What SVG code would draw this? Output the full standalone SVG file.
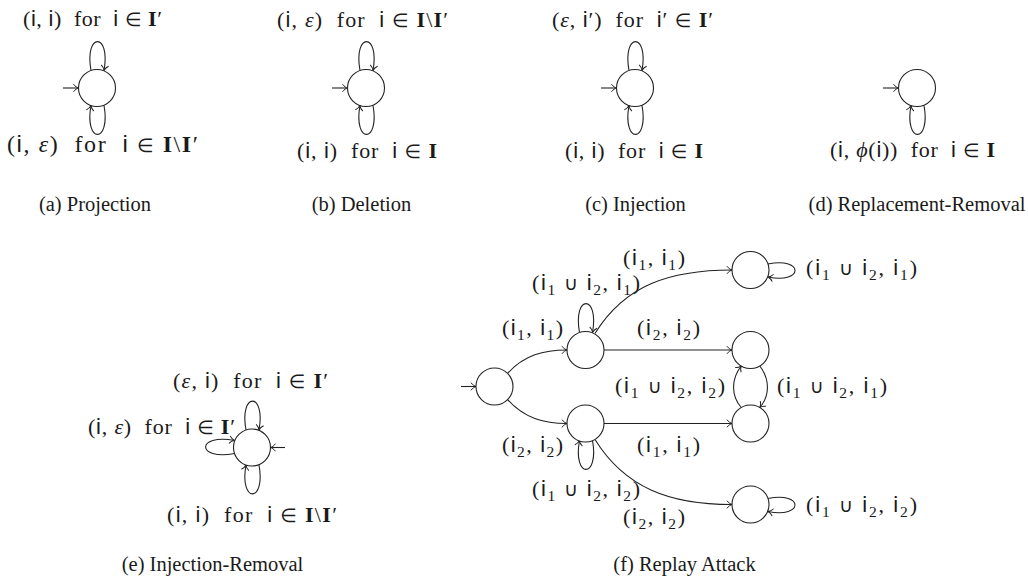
<svg xmlns="http://www.w3.org/2000/svg" width="1028" height="581" viewBox="0 0 1028 581">
<defs>
<style>
.n{fill:#fff;stroke:#222;stroke-width:1.1}
.e{fill:none;stroke:#222;stroke-width:1.1;marker-end:url(#arr)}
.m{font-family:"Liberation Serif",serif;font-size:22px;fill:#1a1a1a;white-space:pre}
.f{font-family:"Liberation Serif",serif;font-size:22px;fill:#1a1a1a;white-space:pre}
.s{font-family:"Liberation Sans",sans-serif}
.b{font-weight:bold}
.it{font-style:italic}
.in{font-family:"DejaVu Sans",sans-serif;font-size:19px}
.sub{font-size:15.5px}
.cap{font-family:"Liberation Serif",serif;font-size:20.5px;fill:#1a1a1a;text-anchor:middle}
</style>
<marker id="arr" markerUnits="userSpaceOnUse" markerWidth="8" markerHeight="10" viewBox="-7 -5 8 10" refX="0" refY="0" orient="auto" overflow="visible">
<path d="M-5,-3.8 C-3.5,-1.5 -1,-0.3 0,0 C-1,0.3 -3.5,1.5 -5,3.8" fill="none" stroke="#222" stroke-width="1"/>
</marker>
</defs>
<rect width="1028" height="581" fill="#fff"/>

<g id="connectors">
<path class="e" d="M63,88 H78.5"/>
<path class="e" d="M91,70.5 C84,32 111,32 104,70.5"/>
<path class="e" d="M104,105.5 C111,144 84,144 91,105.5"/>
<path class="e" d="M332,88 H347.5"/>
<path class="e" d="M360,70.5 C353,32 380,32 373,70.5"/>
<path class="e" d="M373,105.5 C380,144 353,144 360,105.5"/>
<path class="e" d="M601,88 H616.5"/>
<path class="e" d="M629,70.5 C622,32 649,32 642,70.5"/>
<path class="e" d="M642,105.5 C649,144 622,144 629,105.5"/>
<path class="e" d="M883,88 H898.5"/>
<path class="e" d="M924,105.5 C931,144 904,144 911,105.5"/>
<path class="e" d="M285,447.5 H270.5"/>
<path class="e" d="M246,430 C239,391.5 266,391.5 259,430"/>
<path class="e" d="M234.5,453.5 C196,460.5 196,433.5 234.5,440.5"/>
<path class="e" d="M259,465 C266,503.5 239,503.5 246,465"/>
<path class="e" d="M461,386.5 H476"/>
<path class="e" d="M507.6,373.4 C524,355 544,350 567,350"/>
<path class="e" d="M507.6,399.6 C524,418 544,423.5 567,423.5"/>
<path class="e" d="M579.5,332.5 C572.5,294 599.5,294 592.5,332.5"/>
<path class="e" d="M592.5,440.5 C599.5,479 572.5,479 579.5,440.5"/>
<path class="e" d="M595,333.5 C625,285 670,270 732,270"/>
<path class="e" d="M604,350 H732"/>
<path class="e" d="M604,423.5 H732"/>
<path class="e" d="M595,439.5 C625,488 670,504.5 732,504.5"/>
<path class="e" d="M741.25,407.5 C731,396 731,379 741.25,366"/>
<path class="e" d="M759.75,366 C770,379 770,396 759.75,407.5"/>
<path class="e" d="M768,264 C804,257 804,284 768,277"/>
<path class="e" d="M768,498.5 C804,491.5 804,518.5 768,511.5"/>
</g>

<g id="node-a"><circle class="n" cx="97" cy="88" r="18.5"/></g>
<g id="node-b"><circle class="n" cx="366" cy="88" r="18.5"/></g>
<g id="node-c"><circle class="n" cx="635" cy="88" r="18.5"/></g>
<g id="node-d"><circle class="n" cx="917" cy="88" r="18.5"/></g>
<g id="node-e"><circle class="n" cx="252" cy="447.5" r="18.5"/></g>
<g id="node-f-start"><circle class="n" cx="494.5" cy="386.5" r="18.5"/></g>
<g id="node-f-a"><circle class="n" cx="585.5" cy="350" r="18.5"/></g>
<g id="node-f-b"><circle class="n" cx="585.5" cy="423.5" r="18.5"/></g>
<g id="node-f-tr"><circle class="n" cx="750.5" cy="270" r="18.5"/></g>
<g id="node-f-mtr"><circle class="n" cx="750.5" cy="350" r="18.5"/></g>
<g id="node-f-mbr"><circle class="n" cx="750.5" cy="423.5" r="18.5"/></g>
<g id="node-f-br"><circle class="n" cx="750.5" cy="504.5" r="18.5"/></g>

<g id="labels" xml:space="preserve">
<text class="m" x="23" y="26" textLength="139" lengthAdjust="spacing">(<tspan class="s">i</tspan>, <tspan class="s">i</tspan>)  for  <tspan class="s">i</tspan> <tspan class="in">∈</tspan> <tspan class="b">I</tspan>′</text>
<text class="m" x="7" y="151.5" style="font-size:24px" textLength="191" lengthAdjust="spacing">(<tspan class="s">i</tspan>, <tspan class="it">ε</tspan>)  for  <tspan class="s">i</tspan> <tspan class="in">∈</tspan> <tspan class="b">I</tspan>\<tspan class="b">I</tspan>′</text>
<text class="m" x="277" y="27" textLength="171" lengthAdjust="spacing">(<tspan class="s">i</tspan>, <tspan class="it">ε</tspan>)  for  <tspan class="s">i</tspan> <tspan class="in">∈</tspan> <tspan class="b">I</tspan>\<tspan class="b">I</tspan>′</text>
<text class="m" x="297" y="158" textLength="140" lengthAdjust="spacing">(<tspan class="s">i</tspan>, <tspan class="s">i</tspan>)  for  <tspan class="s">i</tspan> <tspan class="in">∈</tspan> <tspan class="b">I</tspan></text>
<text class="m" x="552" y="27" textLength="161" lengthAdjust="spacing">(<tspan class="it">ε</tspan>, <tspan class="s">i</tspan>′)  for  <tspan class="s">i</tspan>′ <tspan class="in">∈</tspan> <tspan class="b">I</tspan>′</text>
<text class="m" x="565" y="158" textLength="138" lengthAdjust="spacing">(<tspan class="s">i</tspan>, <tspan class="s">i</tspan>)  for  <tspan class="s">i</tspan> <tspan class="in">∈</tspan> <tspan class="b">I</tspan></text>
<text class="m" x="830" y="157" textLength="165" lengthAdjust="spacing">(<tspan class="s">i</tspan>, <tspan class="it">ϕ</tspan>(<tspan class="s">i</tspan>))  for  <tspan class="s">i</tspan> <tspan class="in">∈</tspan> <tspan class="b">I</tspan></text>
<text class="m" x="173" y="388" textLength="155" lengthAdjust="spacing">(<tspan class="it">ε</tspan>, <tspan class="s">i</tspan>)  for  <tspan class="s">i</tspan> <tspan class="in">∈</tspan> <tspan class="b">I</tspan>′</text>
<text class="m" x="88" y="434" textLength="147" lengthAdjust="spacing">(<tspan class="s">i</tspan>, <tspan class="it">ε</tspan>)  for  <tspan class="s">i</tspan> <tspan class="in">∈</tspan> <tspan class="b">I</tspan>′</text>
<text class="m" x="167" y="522" textLength="170" lengthAdjust="spacing">(<tspan class="s">i</tspan>, <tspan class="s">i</tspan>)  for  <tspan class="s">i</tspan> <tspan class="in">∈</tspan> <tspan class="b">I</tspan>\<tspan class="b">I</tspan>′</text>

<text class="f" x="502" y="335" textLength="61" lengthAdjust="spacing">(<tspan class="s">i</tspan><tspan class="sub" dy="5">1</tspan><tspan dy="-5">, </tspan><tspan class="s">i</tspan><tspan class="sub" dy="5">1</tspan><tspan dy="-5">)</tspan></text>
<text class="f" x="502" y="452" textLength="61" lengthAdjust="spacing">(<tspan class="s">i</tspan><tspan class="sub" dy="5">2</tspan><tspan dy="-5">, </tspan><tspan class="s">i</tspan><tspan class="sub" dy="5">2</tspan><tspan dy="-5">)</tspan></text>
<text class="f" x="532" y="290" textLength="108" lengthAdjust="spacing">(<tspan class="s">i</tspan><tspan class="sub" dy="5">1</tspan><tspan dy="-5"> <tspan class="in">∪</tspan> </tspan><tspan class="s">i</tspan><tspan class="sub" dy="5">2</tspan><tspan dy="-5">, </tspan><tspan class="s">i</tspan><tspan class="sub" dy="5">1</tspan><tspan dy="-5">)</tspan></text>
<text class="f" x="623" y="265" textLength="62" lengthAdjust="spacing">(<tspan class="s">i</tspan><tspan class="sub" dy="5">1</tspan><tspan dy="-5">, </tspan><tspan class="s">i</tspan><tspan class="sub" dy="5">1</tspan><tspan dy="-5">)</tspan></text>
<text class="f" x="637" y="335" textLength="63" lengthAdjust="spacing">(<tspan class="s">i</tspan><tspan class="sub" dy="5">2</tspan><tspan dy="-5">, </tspan><tspan class="s">i</tspan><tspan class="sub" dy="5">2</tspan><tspan dy="-5">)</tspan></text>
<text class="f" x="615" y="393" textLength="110" lengthAdjust="spacing">(<tspan class="s">i</tspan><tspan class="sub" dy="5">1</tspan><tspan dy="-5"> <tspan class="in">∪</tspan> </tspan><tspan class="s">i</tspan><tspan class="sub" dy="5">2</tspan><tspan dy="-5">, </tspan><tspan class="s">i</tspan><tspan class="sub" dy="5">2</tspan><tspan dy="-5">)</tspan></text>
<text class="f" x="777" y="393" textLength="110" lengthAdjust="spacing">(<tspan class="s">i</tspan><tspan class="sub" dy="5">1</tspan><tspan dy="-5"> <tspan class="in">∪</tspan> </tspan><tspan class="s">i</tspan><tspan class="sub" dy="5">2</tspan><tspan dy="-5">, </tspan><tspan class="s">i</tspan><tspan class="sub" dy="5">1</tspan><tspan dy="-5">)</tspan></text>
<text class="f" x="637" y="452" textLength="63" lengthAdjust="spacing">(<tspan class="s">i</tspan><tspan class="sub" dy="5">1</tspan><tspan dy="-5">, </tspan><tspan class="s">i</tspan><tspan class="sub" dy="5">1</tspan><tspan dy="-5">)</tspan></text>
<text class="f" x="532" y="496" textLength="108" lengthAdjust="spacing">(<tspan class="s">i</tspan><tspan class="sub" dy="5">1</tspan><tspan dy="-5"> <tspan class="in">∪</tspan> </tspan><tspan class="s">i</tspan><tspan class="sub" dy="5">2</tspan><tspan dy="-5">, </tspan><tspan class="s">i</tspan><tspan class="sub" dy="5">2</tspan><tspan dy="-5">)</tspan></text>
<text class="f" x="623" y="524" textLength="62" lengthAdjust="spacing">(<tspan class="s">i</tspan><tspan class="sub" dy="5">2</tspan><tspan dy="-5">, </tspan><tspan class="s">i</tspan><tspan class="sub" dy="5">2</tspan><tspan dy="-5">)</tspan></text>
<text class="f" x="806" y="275" textLength="111" lengthAdjust="spacing">(<tspan class="s">i</tspan><tspan class="sub" dy="5">1</tspan><tspan dy="-5"> <tspan class="in">∪</tspan> </tspan><tspan class="s">i</tspan><tspan class="sub" dy="5">2</tspan><tspan dy="-5">, </tspan><tspan class="s">i</tspan><tspan class="sub" dy="5">1</tspan><tspan dy="-5">)</tspan></text>
<text class="f" x="806" y="512" textLength="111" lengthAdjust="spacing">(<tspan class="s">i</tspan><tspan class="sub" dy="5">1</tspan><tspan dy="-5"> <tspan class="in">∪</tspan> </tspan><tspan class="s">i</tspan><tspan class="sub" dy="5">2</tspan><tspan dy="-5">, </tspan><tspan class="s">i</tspan><tspan class="sub" dy="5">2</tspan><tspan dy="-5">)</tspan></text>
</g>

<g id="captions">
<text class="cap" x="95" y="211">(a) Projection</text>
<text class="cap" x="361.5" y="211">(b) Deletion</text>
<text class="cap" x="635.5" y="211">(c) Injection</text>
<text class="cap" x="917" y="211">(d) Replacement-Removal</text>
<text class="cap" x="212.5" y="571">(e) Injection-Removal</text>
<text class="cap" x="684.5" y="571">(f) Replay Attack</text>
</g>
</svg>
